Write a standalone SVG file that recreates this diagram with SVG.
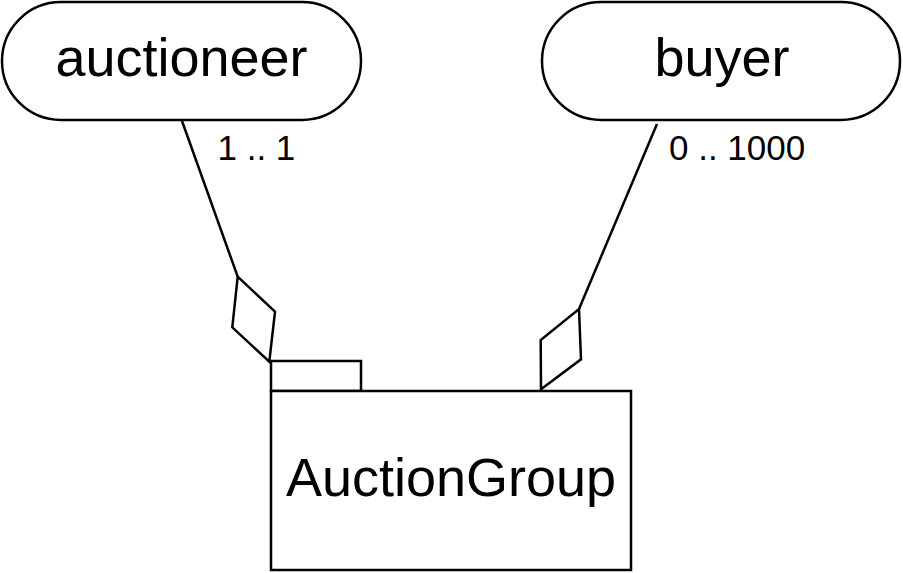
<svg xmlns="http://www.w3.org/2000/svg" width="903" height="573" viewBox="0 0 903 573">
<style>
.s{fill:#fff;stroke:#000;stroke-width:2.5}
.l{fill:none;stroke:#000;stroke-width:2.5}
.t{font-family:"Liberation Sans",Arial,sans-serif;fill:#000}
.big{font-size:54px}
.lab{font-size:35px}
</style>
<rect width="903" height="573" fill="#fff"/>
<g id="connectors">
<polyline class="l" points="182,121 237.7,276.7"/>
<polygon class="s" points="237.7,276.7 275,311.7 269.3,361.7 232.3,327.3"/>
<polyline class="l" points="657,124 579,309"/>
<polygon class="s" points="579,309 581,359.3 541,389.3 540.7,340"/>
<text class="t lab" x="217.5" y="160">1 .. 1</text>
<text class="t lab" x="669" y="160">0 .. 1000</text>
</g>
<g id="auctioneer">
<rect class="s" x="2" y="2" width="359" height="118" rx="59" ry="59"/>
<text class="t big" x="181.5" y="76" text-anchor="middle">auctioneer</text>
</g>
<g id="buyer">
<rect class="s" x="542" y="2" width="358" height="118" rx="59" ry="59"/>
<text class="t big" x="722" y="76" text-anchor="middle">buyer</text>
</g>
<g id="AuctionGroup">
<rect class="s" x="271" y="361" width="90" height="30"/>
<rect class="s" x="271" y="391" width="360" height="179"/>
<text class="t big" x="451" y="496" text-anchor="middle">AuctionGroup</text>
</g>
</svg>
